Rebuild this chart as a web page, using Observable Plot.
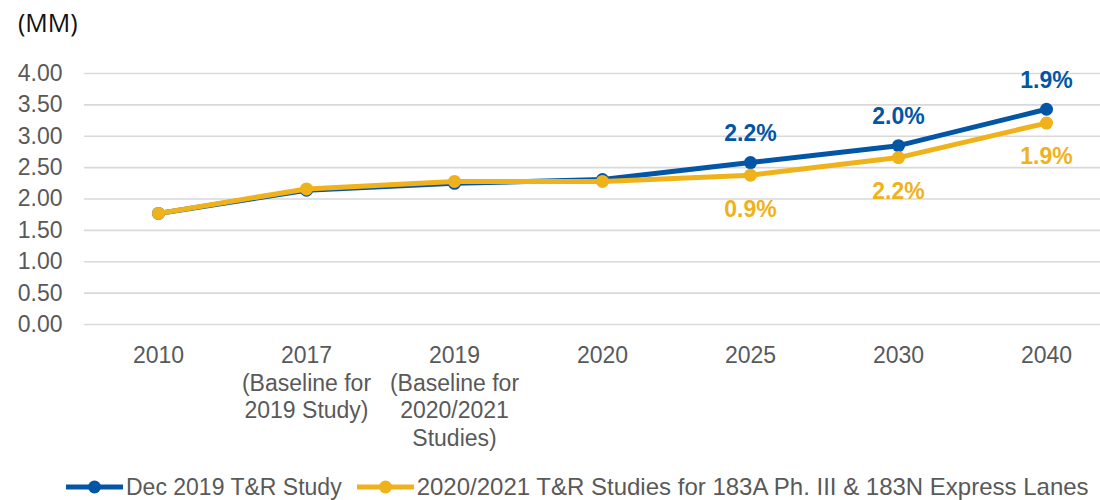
<!DOCTYPE html>
<html>
<head>
<meta charset="utf-8">
<script src="https://cdn.jsdelivr.net/npm/d3@7"></script>
<script src="https://cdn.jsdelivr.net/npm/@observablehq/plot@0.6"></script>
<style>
  html, body { margin: 0; padding: 0; background: #ffffff; width: 1100px; height: 500px; overflow: hidden; }
  body { font-family: "Liberation Sans", Arial, sans-serif; }
  #unit { height: 44px; line-height: 44px; font-family: "Open Sans", sans-serif; font-size: 25px; color: #111111; padding-left: 18px; }
  #legend { display: flex; align-items: center; height: 36px; margin-top: 5px; font-size: 23px; color: #595959; padding-left: 66px; white-space: nowrap; }
  #legend .item { display: flex; align-items: center; }
  #legend .item0 { margin-right: 15px; }
  #legend .item1 span { font-size: 24px; }
  #legend svg { margin-right: 3px; }
</style>
</head>
<body>
<div id="unit">(MM)</div>
<div id="chart"></div>
<div id="legend"></div>
<script>
// ---- data ----
const years = ["2010", "2017", "2019", "2020", "2025", "2030", "2040"];
const tickLabels = [
  "2010",
  "2017\n(Baseline for\n2019 Study)",
  "2019\n(Baseline for\n2020/2021\nStudies)",
  "2020",
  "2025",
  "2030",
  "2040"
];
const seriesNames = ["Dec 2019 T&R Study", "2020/2021 T&R Studies for 183A Ph. III & 183N Express Lanes"];
const dec2019 = [1.77, 2.14, 2.25, 2.31, 2.58, 2.85, 3.43];
const studies2021 = [1.77, 2.16, 2.28, 2.28, 2.38, 2.66, 3.21];
const dec2019Labels = ["", "", "", "", "2.2%", "2.0%", "1.9%"];
const studies2021Labels = ["", "", "", "", "0.9%", "2.2%", "1.9%"];
const yTicks = [0, 0.5, 1, 1.5, 2, 2.5, 3, 3.5, 4];
const colors = ["#0256a5", "#efb21a"];

// ---- build table ----
const rowsA = years.map((y, i) => ({year: y, value: dec2019[i], label: dec2019Labels[i], series: seriesNames[0]}));
const rowsB = years.map((y, i) => ({year: y, value: studies2021[i], label: studies2021Labels[i], series: seriesNames[1]}));
const labelOf = new Map(years.map((y, i) => [y, tickLabels[i]]));

const chart = Plot.plot({
  width: 1100,
  height: 420,
  marginLeft: 84,
  marginRight: 0,
  marginTop: 29,
  marginBottom: 140,
  style: {fontFamily: "'Liberation Sans', Arial, sans-serif", fontSize: "23px", color: "#595959", background: "transparent"},
  x: {type: "point", domain: years, range: [157, 1047], padding: 0},
  y: {domain: [0, 4], range: [280, 29]},
  marks: [
    Plot.ruleY(yTicks, {stroke: "#d9d9d9", strokeWidth: 1.6}),
    Plot.axisY({ticks: yTicks, tickFormat: d3.format(".2f"), tickSize: 0, tickPadding: 22, label: null, fontSize: 23}),
    Plot.axisX({tickFormat: d => labelOf.get(d), tickSize: 0, tickPadding: 19, label: null, lineHeight: 1.2, fontSize: 23}),
    Plot.line(rowsA, {x: "year", y: "value", stroke: colors[0], strokeWidth: 5, curve: "linear"}),
    Plot.dot(rowsA, {x: "year", y: "value", fill: colors[0], r: 6.5}),
    Plot.line(rowsB, {x: "year", y: "value", stroke: colors[1], strokeWidth: 5, curve: "linear"}),
    Plot.dot(rowsB, {x: "year", y: "value", fill: colors[1], r: 6.5}),
    Plot.text(rowsA.filter(d => d.label), {x: "year", y: "value", text: "label", dy: -29, fill: colors[0], fontWeight: "bold", fontSize: 23, textAnchor: "middle", lineAnchor: "middle"}),
    Plot.text(rowsB.filter(d => d.label), {x: "year", y: "value", text: "label", dy: 34, fill: colors[1], fontWeight: "bold", fontSize: 23, textAnchor: "middle", lineAnchor: "middle"})
  ]
});
document.getElementById("chart").appendChild(chart);

// ---- legend ----
const legend = d3.select("#legend");
seriesNames.forEach((name, i) => {
  const item = legend.append("div").attr("class", "item item" + i);
  const sw = item.append("svg").attr("width", 57).attr("height", 16);
  sw.append("line").attr("x1", 0).attr("x2", 57).attr("y1", 8).attr("y2", 8)
    .attr("stroke", colors[i]).attr("stroke-width", 5);
  sw.append("circle").attr("cx", 28.5).attr("cy", 8).attr("r", 6.5).attr("fill", colors[i]);
  item.append("span").text(name);
});
</script>
</body>
</html>
